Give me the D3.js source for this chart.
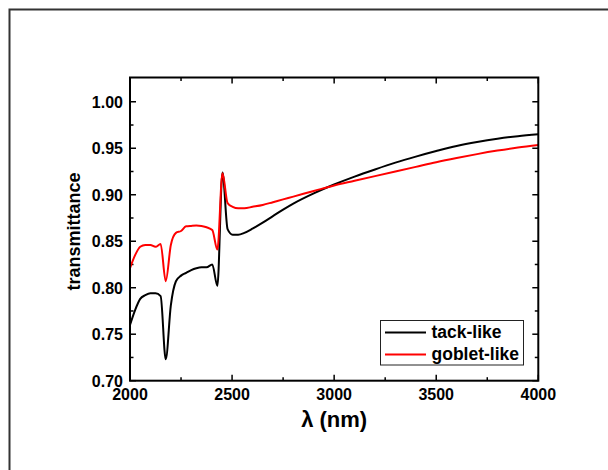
<!DOCTYPE html>
<html>
<head>
<meta charset="utf-8">
<script src="https://cdn.jsdelivr.net/npm/d3@7"></script>
<style>
  body { margin: 0; background: #fff; }
  svg { display: block; font-family: "Liberation Sans", Arial, sans-serif; font-weight: bold; }
</style>
</head>
<body>
<script>
// wavelength in nm, shared by both curves
var wavelength = [2000, 2025, 2050, 2075, 2100, 2125, 2150, 2175, 2200, 2225,
    2250, 2275, 2300, 2325, 2350, 2375, 2403, 2428, 2453, 2478,
    2503, 2530, 2560, 2600, 2650, 2700, 2750, 2800, 2900, 3000,
    3100, 3200, 3300, 3400, 3500, 3600, 3700, 3800, 3900, 4000];

var tackLike = [0.760, 0.776, 0.788, 0.792, 0.794, 0.794, 0.791, 0.723, 0.781, 0.807,
    0.813, 0.816, 0.819, 0.821, 0.822, 0.822, 0.825, 0.802, 0.924, 0.863,
    0.857, 0.857, 0.859, 0.8635, 0.870, 0.877, 0.884, 0.8905, 0.9015, 0.911,
    0.9195, 0.9272, 0.9345, 0.941, 0.947, 0.9525, 0.9568, 0.9603, 0.963, 0.965];

var gobletLike = [0.821, 0.835, 0.844, 0.846, 0.846, 0.844, 0.847, 0.807, 0.846, 0.859,
    0.861, 0.866, 0.8665, 0.8668, 0.8665, 0.865, 0.862, 0.841, 0.923, 0.891,
    0.887, 0.8855, 0.8855, 0.887, 0.889, 0.892, 0.895, 0.898, 0.904, 0.910,
    0.915, 0.920, 0.925, 0.930, 0.935, 0.9395, 0.9437, 0.9475, 0.9508, 0.9535];

var seriesNames = ["tack-like", "goblet-like"];
var seriesColors = ["#000000", "#ff0000"];

var xTicks = [2000, 2500, 3000, 3500, 4000];
var xMinor = [2250, 2750, 3250, 3750];
var yTicks = [0.70, 0.75, 0.80, 0.85, 0.90, 0.95, 1.00];
var yMinor = [0.725, 0.775, 0.825, 0.875, 0.925, 0.975];

var svg = d3.select("body").append("svg")
    .attr("width", 608)
    .attr("height", 470);

// outer frame (only its top and left edges fall inside the picture)
svg.append("rect")
    .attr("x", 9.5).attr("y", 9.5)
    .attr("width", 700).attr("height", 600)
    .attr("fill", "none")
    .attr("stroke", "#333")
    .attr("stroke-width", 2);

var plotL = 130, plotR = 538.3, plotT = 77.5, plotB = 380.7;

var x = d3.scaleLinear().domain([2000, 4000]).range([plotL, plotR]);
var y = d3.scaleLinear().domain([0.70, 1.0261]).range([plotB, plotT]);

// ticks pointing inward on all four sides
function xticks(vals, len) {
    vals.forEach(function(v) {
        svg.append("line").attr("x1", x(v)).attr("x2", x(v))
            .attr("y1", plotB).attr("y2", plotB - len)
            .attr("stroke", "#000").attr("stroke-width", 1.5);
        svg.append("line").attr("x1", x(v)).attr("x2", x(v))
            .attr("y1", plotT).attr("y2", plotT + len)
            .attr("stroke", "#000").attr("stroke-width", 1.5);
    });
}
xticks(xTicks, 6);
xticks(xMinor, 3.5);

function yticks(vals, len) {
    vals.forEach(function(v) {
        svg.append("line").attr("y1", y(v)).attr("y2", y(v))
            .attr("x1", plotL).attr("x2", plotL + len)
            .attr("stroke", "#000").attr("stroke-width", 1.5);
        svg.append("line").attr("y1", y(v)).attr("y2", y(v))
            .attr("x1", plotR).attr("x2", plotR - len)
            .attr("stroke", "#000").attr("stroke-width", 1.5);
    });
}
yticks(yTicks, 6);
yticks(yMinor, 3.5);

// tick labels
svg.selectAll(".xlab").data(xTicks).enter().append("text")
    .attr("x", function(d) { return x(d); })
    .attr("y", plotB + 19)
    .attr("text-anchor", "middle")
    .attr("font-size", 16)
    .text(function(d) { return d; });

svg.selectAll(".ylab").data(yTicks).enter().append("text")
    .attr("x", plotL - 7)
    .attr("y", function(d) { return y(d) + 5.8; })
    .attr("text-anchor", "end")
    .attr("font-size", 16)
    .text(function(d) { return d.toFixed(2); });

// curves
var line = d3.line()
    .x(function(d) { return x(d[0]); })
    .y(function(d) { return y(d[1]); })
    .curve(d3.curveMonotoneX);

[tackLike, gobletLike].forEach(function(vals, i) {
    svg.append("path")
        .datum(d3.zip(wavelength, vals))
        .attr("d", line)
        .attr("fill", "none")
        .attr("stroke", seriesColors[i])
        .attr("stroke-width", 2)
        .attr("stroke-linejoin", "round");
});

// plot frame
svg.append("rect")
    .attr("x", plotL).attr("y", plotT)
    .attr("width", plotR - plotL).attr("height", plotB - plotT)
    .attr("fill", "none")
    .attr("stroke", "#000")
    .attr("stroke-width", 2);

// axis titles
svg.append("text")
    .attr("x", (plotL + plotR) / 2)
    .attr("y", 427)
    .attr("text-anchor", "middle")
    .attr("font-size", 22)
    .text("λ (nm)");

svg.append("text")
    .attr("transform", "translate(79.5,231.5) rotate(-90)")
    .attr("text-anchor", "middle")
    .attr("font-size", 18)
    .text("transmittance");

// legend
var legend = svg.append("g");
legend.append("rect")
    .attr("x", 380.5).attr("y", 320.5)
    .attr("width", 143).attr("height", 44.5)
    .attr("fill", "#fff")
    .attr("stroke", "#222")
    .attr("stroke-width", 1);

seriesNames.forEach(function(name, i) {
    var ly = 332.5 + i * 22;
    legend.append("line")
        .attr("x1", 385).attr("x2", 426)
        .attr("y1", ly).attr("y2", ly)
        .attr("stroke", seriesColors[i])
        .attr("stroke-width", 2);
    legend.append("text")
        .attr("x", 431.5)
        .attr("y", ly + 5.5)
        .attr("font-size", 17.5)
        .text(name);
});
</script>
</body>
</html>
